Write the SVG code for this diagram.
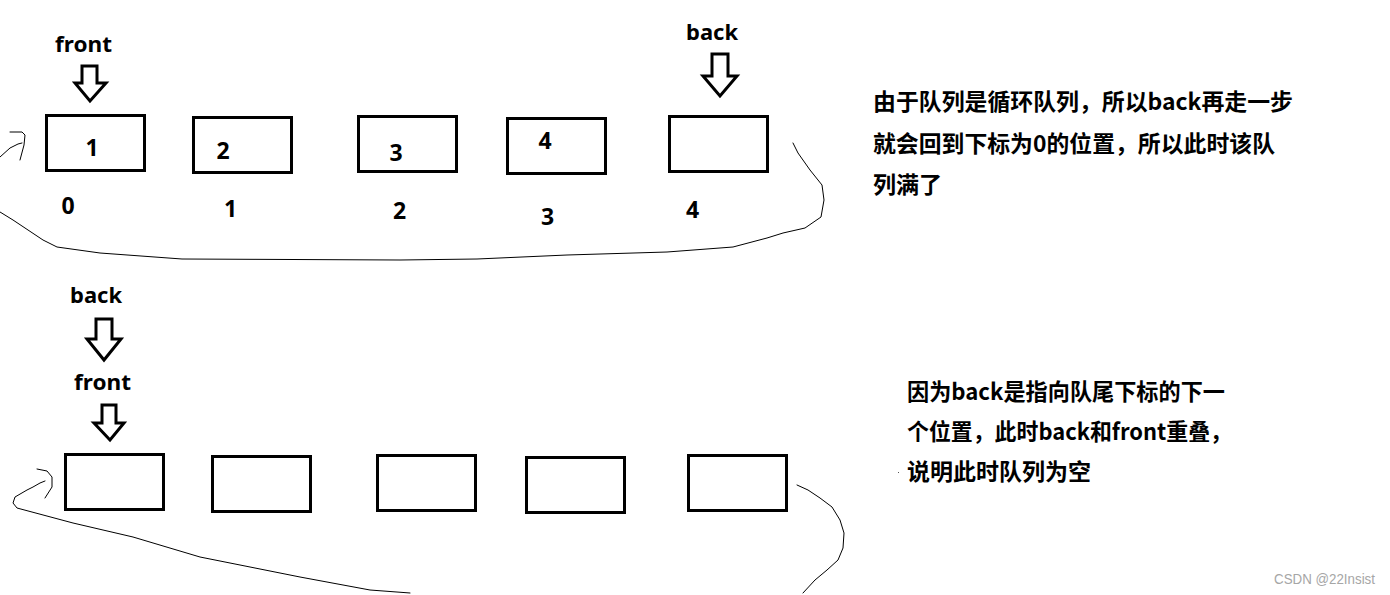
<svg xmlns="http://www.w3.org/2000/svg" width="1390" height="595" viewBox="0 0 1390 595">
<style>
.box{fill:none;stroke:#000;stroke-width:3}
.arr{fill:#fff;stroke:#000;stroke-width:3;stroke-linejoin:miter}
.cur{fill:none;stroke:#000;stroke-width:1;stroke-linecap:round;stroke-linejoin:round}
.lbl{font-family:"Noto Sans","Noto Sans CJK SC",sans-serif;font-weight:bold;font-size:22px;fill:#000}
.num{font-family:"Noto Sans","Noto Sans CJK SC",sans-serif;font-weight:bold;font-size:23px;fill:#000;text-anchor:middle}
.cn{font-family:"Noto Sans CJK SC",sans-serif;font-weight:bold;font-size:23px;fill:#000}
.wm{font-family:"Liberation Sans",Arial,sans-serif;font-size:14px;fill:#a6a6a6}
</style>
<rect width="1390" height="595" fill="#fff"/>
<g id="connectors">
<path class="cur" d="M793,143 L798,153 L810,170 L822,185 L824,200 L821,217 L805,228 L783,233 L767,238 L733,247 L667,252 L567,255 L477,259 L400,260 L182,259 L100,253 L57,247 L43,240 L25,228 L13,220 L0,212"/>
<path class="cur" d="M0,157 L10,148 L18,144 L22,143 M10,132 L22,132 L25,135 L24,145 L20,160"/>
<path class="cur" d="M797,485 L808,490 L820,498 L832,507 L840,520 L844,533 L843,548 L838,560 L827,570 L815,580 L803,593"/>
<path class="cur" d="M410,593 L370,590 L300,577 L200,557 L133,537 L73,523 L17,508 L13,503 L15,497 L27,490 L33,487 L40,483 L45,481 M37,469 L47,471 L52,477 L52,487 L45,498"/>
</g>
<g id="top-front"><text class="lbl" x="55" y="52" textLength="57" lengthAdjust="spacingAndGlyphs">front</text><polygon class="arr" points="82,66 97,66 97,83 106,83 90,101 75,83 82,83"/></g>
<g id="top-back"><text class="lbl" x="686" y="40" textLength="52" lengthAdjust="spacingAndGlyphs">back</text><polygon class="arr" points="712,54 728,54 728,76 737,76 720,96 703,76 712,76"/></g>
<g id="t1"><rect class="box" x="46.5" y="115.5" width="98" height="55"/><text class="num" x="92" y="156">1</text><text class="num" x="68" y="214">0</text></g>
<g id="t2"><rect class="box" x="193.5" y="117.5" width="98" height="55"/><text class="num" x="223" y="159">2</text><text class="num" x="230.5" y="217">1</text></g>
<g id="t3"><rect class="box" x="358.5" y="116.5" width="98" height="55"/><text class="num" x="396" y="161">3</text><text class="num" x="399.5" y="219">2</text></g>
<g id="t4"><rect class="box" x="507.5" y="118.5" width="98" height="55"/><text class="num" x="545" y="149">4</text><text class="num" x="547.5" y="225">3</text></g>
<g id="t5"><rect class="box" x="669.5" y="116.5" width="98" height="55"/><text class="num" x="692.5" y="218">4</text></g>
<g id="bottom-back"><text class="lbl" x="70" y="303" textLength="52" lengthAdjust="spacingAndGlyphs">back</text><polygon class="arr" points="96,319 112,319 112,339 121,339 104,360 87,339 96,339"/></g>
<g id="bottom-front"><text class="lbl" x="74" y="390" textLength="57" lengthAdjust="spacingAndGlyphs">front</text><polygon class="arr" points="102,405 116,405 116,423 124,423 110,440 94,423 102,423"/></g>
<g id="b1"><rect class="box" x="65.5" y="454.5" width="98" height="55"/></g>
<g id="b2"><rect class="box" x="212.5" y="456.5" width="98" height="55"/></g>
<g id="b3"><rect class="box" x="377.5" y="455.5" width="98" height="55"/></g>
<g id="b4"><rect class="box" x="526.5" y="457.5" width="98" height="55"/></g>
<g id="b5"><rect class="box" x="688.5" y="455.5" width="98" height="55"/></g>
<g id="note-full">
<text class="cn" x="873" y="110" textLength="420" lengthAdjust="spacingAndGlyphs">由于队列是循环队列，所以back再走一步</text>
<text class="cn" x="873" y="152" textLength="402" lengthAdjust="spacingAndGlyphs">就会回到下标为0的位置，所以此时该队</text>
<text class="cn" x="873" y="193">列满了</text>
</g>
<g id="note-empty">
<text class="cn" x="907" y="400" textLength="318" lengthAdjust="spacingAndGlyphs">因为back是指向队尾下标的下一</text>
<text class="cn" x="907" y="440" textLength="325" lengthAdjust="spacingAndGlyphs">个位置，此时back和front重叠，</text>
<text class="cn" x="907" y="480">说明此时队列为空</text>
<rect x="898" y="472" width="1" height="1" fill="#555"/>
</g>
<text class="wm" x="1274" y="584" textLength="101" lengthAdjust="spacingAndGlyphs">CSDN @22Insist</text>
</svg>
